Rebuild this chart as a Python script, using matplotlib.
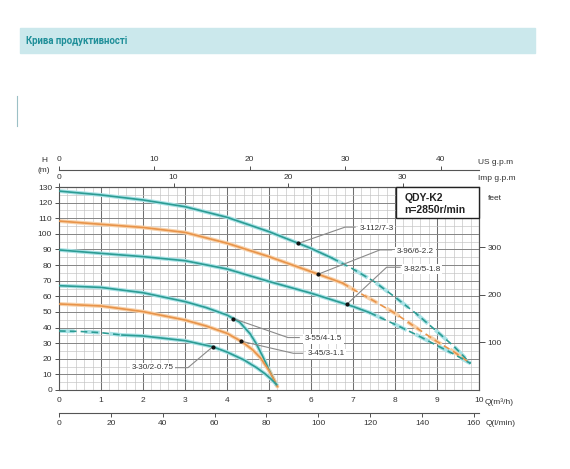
import numpy as np
import matplotlib
matplotlib.use("Agg")
import matplotlib.pyplot as plt
from matplotlib.patches import Rectangle

plt.rcParams['font.family'] = ['Liberation Sans', 'DejaVu Sans']

W, H_PX = 570, 469

# ---- curve data (Q in m3/h, H in m) ----
q112 = [0, 1, 2, 3, 4, 5, 6, 6.5]
h112 = [127.4, 124.9, 121.7, 117.4, 110.6, 101.4, 90.7, 84.5]
q112_d = [6.5, 7, 7.5, 8, 8.5, 9, 9.4, 9.8]
h112_d = [84.5, 77.5, 69.5, 59.5, 49, 37.5, 28, 17]

q96 = [0, 1, 2, 3, 4, 5, 6, 6.75]
h96 = [108.2, 106.1, 104.1, 100.9, 94, 85.4, 75.8, 68.5]
q96_d = [6.75, 7, 7.5, 8, 8.5, 9, 9.4, 9.8]
h96_d = [68.5, 64.5, 57, 49.1, 40, 31, 24.5, 17]

q82 = [0, 1, 2, 3, 4, 5, 6, 7, 7.4]
h82 = [89.7, 87.5, 85.4, 82.8, 77.5, 69.5, 62, 53.5, 49.5]
q82_d = [7.4, 8, 8.5, 9, 9.4, 9.8]
h82_d = [49.5, 42, 35.5, 28.5, 23, 17]

q55 = [0, 1, 2, 3, 3.5, 4, 4.3, 4.55, 4.7, 4.85, 5.0, 5.1, 5.18]
h55 = [66.8, 65.7, 62.3, 56.6, 52.8, 48, 43.5, 36, 29.5, 21.5, 13, 7.5, 3]

q45 = [0, 1, 2, 3, 3.5, 4, 4.35, 4.6, 4.8, 5.0, 5.1, 5.2]
h45 = [55.1, 53.8, 50.2, 44.8, 41, 36.3, 31, 26, 20.5, 12.5, 7.5, 2.2]

q30_d = [0, 0.5, 1, 1.5]
h30_d = [37.8, 37.5, 36.7, 35.2]
q30 = [1.5, 2, 3, 3.66, 4.0, 4.4, 4.71, 4.9, 5.05, 5.18]
h30 = [35.2, 34.6, 31.6, 27.7, 24.3, 19.3, 14.2, 10.5, 7, 3.5]

us_ticks = [0, 10, 20, 30, 40]
imp_ticks = [0, 10, 20, 30]
lmin_ticks = [0, 20, 40, 60, 80, 100, 120, 140, 160]
feet_ticks = [100, 200, 300]

TEAL, TEAL_L = '#2c9c94', '#a9e2e6'
ORANGE, ORANGE_L = '#e8944a', '#f8d2ab'
DASH = (0, (4, 2.5))


def fx(px):
    return px / W


def fy(py):
    return 1 - py / H_PX


fig = plt.figure(figsize=(5.7, 4.69), dpi=100)

# header banner
fig.patches.append(Rectangle((fx(20), fy(53)), fx(535) - fx(20), fy(28) - fy(53),
                             transform=fig.transFigure, color='#cbe8ec', zorder=0))
fig.text(fx(26), fy(41), 'Крива продуктивності', fontsize=6.9, fontweight='bold',
         color='#1f8f99', va='center', family=['Roboto', 'DejaVu Sans'])
fig.add_artist(plt.Line2D([fx(17), fx(17)], [fy(96), fy(126)], color='#9cc0c6',
                          lw=0.8, transform=fig.transFigure))

ax = fig.add_axes([fx(59), fy(390), fx(479) - fx(59), fy(187) - fy(390)])
ax.set_xlim(0, 10)
ax.set_ylim(0, 130)
ax.set_xticks(np.arange(0, 11, 1))
ax.set_xticks(np.arange(0, 10.01, 0.2), minor=True)
ax.set_yticks(np.arange(0, 131, 10))
ax.set_yticks(np.arange(0, 131, 5), minor=True)
ax.grid(which='major', axis='x', color='#707070', lw=0.75)
ax.grid(which='major', axis='y', color='#858585', lw=0.7)
ax.grid(which='minor', color='#c2c2c2', lw=0.45)
ax.set_axisbelow(True)
ax.tick_params(which='minor', length=0)
ax.tick_params(axis='x', length=0, pad=5, labelsize=6, colors='#333')
ax.tick_params(axis='y', length=3, pad=2, labelsize=6, colors='#333', width=0.6)
for s in ax.spines.values():
    s.set_color('#555')
    s.set_linewidth(0.8)


def curve(q, h, color, light, dashed=False):
    ls = DASH if dashed else '-'
    ax.plot(q, h, color=light, lw=2.8, ls=ls, zorder=2, solid_capstyle='round')
    ax.plot(q, h, color=color, lw=1.2, ls=ls, zorder=3)


curve(q112, h112, TEAL, TEAL_L)
curve(q112_d, h112_d, TEAL, TEAL_L, True)
curve(q96, h96, ORANGE, ORANGE_L)
curve(q96_d, h96_d, ORANGE, ORANGE_L, True)
curve(q82, h82, TEAL, TEAL_L)
curve(q82_d, h82_d, TEAL, TEAL_L, True)
curve(q55, h55, TEAL, TEAL_L)
curve(q45, h45, ORANGE, ORANGE_L)
curve(q30_d, h30_d, TEAL, TEAL_L, True)
curve(q30, h30, TEAL, TEAL_L)


def label(text, q, qs, hs, path, tx, ty, ha='left'):
    hm = np.interp(q, qs, hs)
    xs = [q] + [p[0] for p in path]
    ys = [hm] + [p[1] for p in path]
    ax.plot(xs, ys, color='#8a8a8a', lw=0.8, zorder=4)
    ax.plot(q, hm, 'o', color='#111', ms=2, zorder=5)
    ax.text(tx, ty, text, fontsize=5.9, color='#333', ha=ha, va='center', zorder=5,
            bbox=dict(facecolor='white', edgecolor='none', pad=1.2))


label('3-112/7-3', 5.7, q112, h112, [(6.81, 104.3), (7.05, 104.3)], 7.15, 103.5)
label('3-96/6-2.2', 6.17, q96, h96, [(7.64, 89.7), (7.92, 89.7)], 8.05, 88.6)
label('3-82/5-1.8', 6.85, q82, h82, [(7.8, 78.6), (8.12, 78.6)], 8.2, 77.4)
label('3-55/4-1.5', 4.15, q55, h55, [(5.45, 33.6), (5.72, 33.6)], 5.85, 32.8)
label('3-45/3-1.1', 4.33, q45, h45, [(5.58, 23.5), (5.8, 23.5)], 5.92, 23.2)
label('3-30/2-0.75', 3.66, q30, h30, [(3.07, 14.3), (2.76, 14.3)], 2.72, 14.3, ha='right')

# model box
ax.add_patch(Rectangle((8.02, 110.2), 1.98, 19.8, facecolor='white',
                       edgecolor='#222', lw=1, zorder=6, clip_on=False))
ax.text(8.22, 123.2, 'QDY-K2', fontsize=7.5, fontweight='bold', color='#222', va='center', zorder=7)
ax.text(8.22, 115.3, 'n=2850r/min', fontsize=7.5, fontweight='bold', color='#222', va='center', zorder=7)

# secondary scales
imp = ax.secondary_xaxis('top', functions=(lambda q: q / 0.27277, lambda g: g * 0.27277))
imp.set_xticks(imp_ticks)
imp.tick_params(length=3, width=0.6, pad=1, labelsize=6, colors='#333')

us = ax.secondary_xaxis(1.084, functions=(lambda q: q / 0.22712, lambda g: g * 0.22712))
us.set_xticks(us_ticks)
us.tick_params(length=3, width=0.6, pad=2, labelsize=6, colors='#333')

lmin = ax.secondary_xaxis(-0.113, functions=(lambda q: q * 16.2, lambda v: v / 16.2))
lmin.set_xticks(lmin_ticks)
lmin.tick_params(length=3, width=0.6, pad=2, labelsize=6, colors='#333')

feet = ax.secondary_yaxis('right', functions=(lambda h: h / 0.3048, lambda f: f * 0.3048))
feet.set_yticks(feet_ticks)
feet.tick_params(length=4, width=0.6, pad=2, labelsize=6, colors='#333')

for sec in (imp, us, lmin, feet):
    for s in sec.spines.values():
        s.set_color('#555')
        s.set_linewidth(0.8)

# axis captions
txt = dict(fontsize=6, color='#333', va='center')
fig.text(fx(478), fy(162), 'US g.p.m', **txt)
fig.text(fx(478), fy(179), 'Imp g.p.m', **txt)
fig.text(fx(488), fy(198), 'feet', **txt)
fig.text(fx(485), fy(402), 'Q(m³/h)', **txt)
fig.text(fx(486), fy(423), 'Q(l/min)', **txt)
fig.text(fx(44), fy(161), 'H', ha='center', **txt)
fig.text(fx(44), fy(171), '(m)', ha='center', **txt)

fig.savefig('out.png', dpi=100, facecolor='white')
